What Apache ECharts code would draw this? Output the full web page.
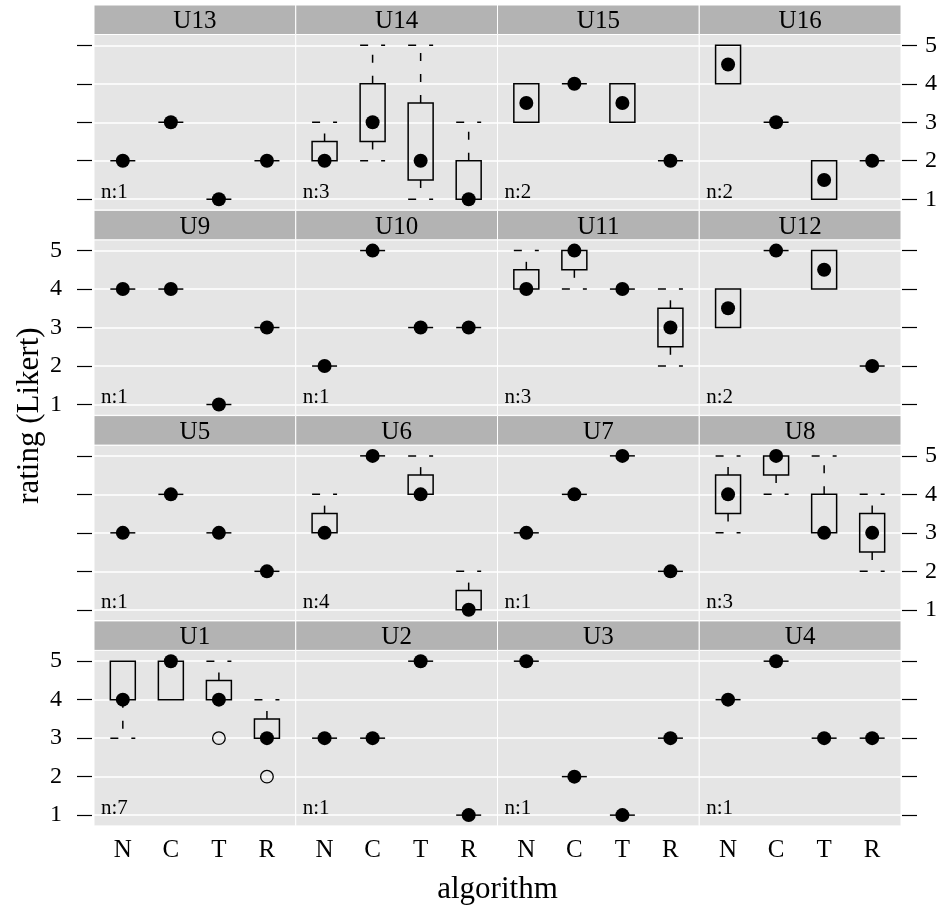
<!DOCTYPE html>
<html>
<head>
<meta charset="utf-8">
<title>Ratings per user and algorithm</title>
<script src="https://cdn.jsdelivr.net/npm/echarts@6/dist/echarts.min.js"></script>
<style>
  html, body { margin: 0; padding: 0; background: #ffffff; }
  #chart { width: 946px; height: 909px; }
</style>
</head>
<body>
<div id="chart"></div>
<script>
// Algorithms on the x axis of every panel
const algorithms = ['N', 'C', 'T', 'R'];
// Likert scale ticks
const ratingTicks = [1, 2, 3, 4, 5];
// Users, one panel each, and how many ratings each user gave
const users = ['U1', 'U2', 'U3', 'U4', 'U5', 'U6', 'U7', 'U8',
               'U9', 'U10', 'U11', 'U12', 'U13', 'U14', 'U15', 'U16'];
const userCounts = [7, 1, 1, 1, 1, 4, 1, 3, 1, 1, 3, 2, 1, 3, 2, 2];

// Box statistics per user, one row per algorithm (N, C, T, R):
// [lower whisker, lower hinge, median, upper hinge, upper whisker]
const statsU1  = [[3, 4, 4, 5, 5], [4, 4, 5, 5, 5], [4, 4, 4, 4.5, 5], [3, 3, 3, 3.5, 4]];
const statsU2  = [[3, 3, 3, 3, 3], [3, 3, 3, 3, 3], [5, 5, 5, 5, 5], [1, 1, 1, 1, 1]];
const statsU3  = [[5, 5, 5, 5, 5], [2, 2, 2, 2, 2], [1, 1, 1, 1, 1], [3, 3, 3, 3, 3]];
const statsU4  = [[4, 4, 4, 4, 4], [5, 5, 5, 5, 5], [3, 3, 3, 3, 3], [3, 3, 3, 3, 3]];
const statsU5  = [[3, 3, 3, 3, 3], [4, 4, 4, 4, 4], [3, 3, 3, 3, 3], [2, 2, 2, 2, 2]];
const statsU6  = [[3, 3, 3, 3.5, 4], [5, 5, 5, 5, 5], [4, 4, 4, 4.5, 5], [1, 1, 1, 1.5, 2]];
const statsU7  = [[3, 3, 3, 3, 3], [4, 4, 4, 4, 4], [5, 5, 5, 5, 5], [2, 2, 2, 2, 2]];
const statsU8  = [[3, 3.5, 4, 4.5, 5], [4, 4.5, 5, 5, 5], [3, 3, 3, 4, 5], [2, 2.5, 3, 3.5, 4]];
const statsU9  = [[4, 4, 4, 4, 4], [4, 4, 4, 4, 4], [1, 1, 1, 1, 1], [3, 3, 3, 3, 3]];
const statsU10 = [[2, 2, 2, 2, 2], [5, 5, 5, 5, 5], [3, 3, 3, 3, 3], [3, 3, 3, 3, 3]];
const statsU11 = [[4, 4, 4, 4.5, 5], [4, 4.5, 5, 5, 5], [4, 4, 4, 4, 4], [2, 2.5, 3, 3.5, 4]];
const statsU12 = [[3, 3, 3.5, 4, 4], [5, 5, 5, 5, 5], [4, 4, 4.5, 5, 5], [2, 2, 2, 2, 2]];
const statsU13 = [[2, 2, 2, 2, 2], [3, 3, 3, 3, 3], [1, 1, 1, 1, 1], [2, 2, 2, 2, 2]];
const statsU14 = [[2, 2, 2, 2.5, 3], [2, 2.5, 3, 4, 5], [1, 1.5, 2, 3.5, 5], [1, 1, 1, 2, 3]];
const statsU15 = [[3, 3, 3.5, 4, 4], [4, 4, 4, 4, 4], [3, 3, 3.5, 4, 4], [2, 2, 2, 2, 2]];
const statsU16 = [[4, 4, 4.5, 5, 5], [3, 3, 3, 3, 3], [1, 1, 1.5, 2, 2], [2, 2, 2, 2, 2]];

// Outlying ratings beyond the whiskers, per algorithm (N, C, T, R)
const outliersU1 = [[], [], [3], [2]];

const userStats = [statsU1, statsU2, statsU3, statsU4, statsU5, statsU6, statsU7, statsU8,
                   statsU9, statsU10, statsU11, statsU12, statsU13, statsU14, statsU15, statsU16];
const userOutliers = { U1: outliersU1 };

// ---- layout of the 4 x 4 lattice ----
const FONT = 'Liberation Serif';
const PANEL_LEFT = 94;
const PANEL_W = 201.75;
const ROW_TOP = 5;
const ROW_PITCH = 205.3;
const STRIP_H = 29.5;
const PANEL_H = 175.5;
const NCOL = 4, NROW = 4;
const BOX_HALF = 0.26;          // half box width, in category units
const DASH = [8, 13];
const LINE_W = 1.5;

const yPad = 0.07 * (ratingTicks[ratingTicks.length - 1] - ratingTicks[0]);
const yMin = ratingTicks[0] - yPad;
const yMax = ratingTicks[ratingTicks.length - 1] + yPad;
const xMin = 1 - 0.6, xMax = algorithms.length + 0.6;
const catValues = algorithms.map((_, i) => i + 1);

function renderBox(params, api) {
  const x = api.value(0);
  const lo = api.value(1), q1 = api.value(2), md = api.value(3), q3 = api.value(4), hi = api.value(5);
  const pTL = api.coord([x - BOX_HALF, q3]);
  const pBR = api.coord([x + BOX_HALF, q1]);
  const lineStyle = { stroke: '#000', lineWidth: LINE_W, fill: null };
  const dashStyle = { stroke: '#000', lineWidth: LINE_W, fill: null, lineDash: DASH };
  const children = [];

  // whiskers and staples, drawn outward from the box
  const whisker = (from, to) => {
    const a = api.coord([x, from]), b = api.coord([x, to]);
    children.push({ type: 'line', shape: { x1: a[0], y1: a[1], x2: b[0], y2: b[1] }, style: dashStyle });
    const l = api.coord([x - BOX_HALF, to]), r = api.coord([x + BOX_HALF, to]);
    children.push({ type: 'line', shape: { x1: l[0], y1: l[1], x2: r[0], y2: r[1] }, style: dashStyle });
  };
  if (hi > q3) whisker(q3, hi);
  if (lo < q1) whisker(q1, lo);

  // box between the hinges (a flat line when both hinges coincide)
  if (q3 > q1) {
    children.push({ type: 'rect',
      shape: { x: pTL[0], y: pTL[1], width: pBR[0] - pTL[0], height: pBR[1] - pTL[1] },
      style: lineStyle });
  } else {
    children.push({ type: 'line', shape: { x1: pTL[0], y1: pTL[1], x2: pBR[0], y2: pBR[1] }, style: lineStyle });
  }

  // median dot
  const m = api.coord([x, md]);
  children.push({ type: 'circle', shape: { cx: m[0], cy: m[1], r: 7 }, style: { fill: '#000' } });

  // sample size in the lower-left corner of the panel
  if (params.dataIndex === 0) {
    const cs = params.coordSys;
    const yBase = api.coord([x, ratingTicks[0]])[1];
    children.push({ type: 'text', x: cs.x + 7, y: yBase + 3.5,
      style: { text: 'n:' + params.context.nLabel, fontSize: 21, fontFamily: FONT,
               fill: '#000', align: 'left', verticalAlign: 'bottom' } });
  }
  return { type: 'group', children };
}

function renderOutlier(params, api) {
  const p = api.coord([api.value(0), api.value(1)]);
  return { type: 'circle', shape: { cx: p[0], cy: p[1], r: 6.3 },
           style: { fill: null, stroke: '#000', lineWidth: 1.3 } };
}

const grids = [], xAxes = [], yAxes = [], series = [], graphics = [];
const rightAxes = [];

users.forEach((u, k) => {
  const rowFromBottom = Math.floor(k / NCOL);
  const col = k % NCOL;
  const row = NROW - 1 - rowFromBottom;        // 0 = top row
  const stripTop = ROW_TOP + row * ROW_PITCH;
  const top = stripTop + STRIP_H;
  const left = PANEL_LEFT + col * PANEL_W;
  const leftLabels = (row % 2 === 1);

  grids.push({ left, top, width: PANEL_W, height: PANEL_H, show: true,
    backgroundColor: '#e5e5e5', borderColor: '#ffffff', borderWidth: 1,
    containLabel: false, outerBoundsMode: 'none' });

  xAxes.push({ gridIndex: k, type: 'value', min: xMin, max: xMax,
    axisLine: { show: false }, axisTick: { show: false }, splitLine: { show: false },
    axisLabel: { show: row === NROW - 1, customValues: catValues,
      formatter: v => algorithms[Math.round(v) - 1], color: '#000',
      fontFamily: FONT, fontSize: 25, margin: 12 } });

  yAxes.push({ gridIndex: k, type: 'value', min: yMin, max: yMax, position: 'left', offset: 2,
    axisLine: { show: false },
    axisTick: { show: col === 0, customValues: ratingTicks, length: 15,
      lineStyle: { color: '#000', width: 1.2 } },
    axisLabel: { show: col === 0 && leftLabels, customValues: ratingTicks, color: '#000',
      fontFamily: FONT, fontSize: 24, margin: 30 },
    splitLine: { show: true, lineStyle: { color: '#ffffff', width: 1.5 } } });

  if (col === NCOL - 1) {
    rightAxes.push({ gridIndex: k, type: 'value', min: yMin, max: yMax, position: 'right', offset: 1,
      axisLine: { show: false },
      axisTick: { show: true, customValues: ratingTicks, length: 15,
        lineStyle: { color: '#000', width: 1.2 } },
      axisLabel: { show: !leftLabels, customValues: ratingTicks, color: '#000',
        fontFamily: FONT, fontSize: 24, margin: 23 },
      splitLine: { show: false } });
  }

  const n = userCounts[k];
  series.push({ type: 'custom', xAxisIndex: k, yAxisIndex: k, silent: true, clip: false,
    data: userStats[k].map((s, j) => [catValues[j]].concat(s)),
    encode: { x: 0, y: [1, 2, 3, 4, 5] },
    renderItem: (params, api) => { params.context.nLabel = n; return renderBox(params, api); } });

  const outs = userOutliers[u];
  if (outs) {
    const pts = [];
    outs.forEach((vals, j) => vals.forEach(v => pts.push([catValues[j], v])));
    series.push({ type: 'custom', xAxisIndex: k, yAxisIndex: k, silent: true, clip: false,
      data: pts, encode: { x: 0, y: 1 }, renderItem: renderOutlier });
  }

  // strip with the user name
  graphics.push({ type: 'rect', silent: true,
    shape: { x: left, y: stripTop, width: PANEL_W, height: STRIP_H },
    style: { fill: '#b3b3b3', stroke: '#ffffff', lineWidth: 1 } });
  graphics.push({ type: 'text', silent: true, x: left + PANEL_W / 2, y: stripTop + STRIP_H / 2 + 2,
    style: { text: u, fontSize: 25, fontFamily: FONT, fill: '#000',
             align: 'center', verticalAlign: 'middle' } });
});

rightAxes.forEach(a => yAxes.push(a));

// axis titles
const panelsCenterX = PANEL_LEFT + NCOL * PANEL_W / 2;
const panelsCenterY = ROW_TOP + NROW * ROW_PITCH / 2;
graphics.push({ type: 'text', silent: true, x: panelsCenterX, y: 890,
  style: { text: 'algorithm', fontSize: 31, fontFamily: FONT, fill: '#000',
           align: 'center', verticalAlign: 'middle' } });
graphics.push({ type: 'text', silent: true, x: 30, y: panelsCenterY, rotation: Math.PI / 2,
  style: { text: 'rating (Likert)', fontSize: 31, fontFamily: FONT, fill: '#000',
           align: 'center', verticalAlign: 'middle' } });

const chart = echarts.init(document.getElementById('chart'), null, { renderer: 'canvas' });
chart.setOption({
  animation: false,
  backgroundColor: '#ffffff',
  textStyle: { fontFamily: FONT },
  grid: grids,
  xAxis: xAxes,
  yAxis: yAxes,
  series,
  graphic: { elements: graphics }
});
</script>
</body>
</html>
